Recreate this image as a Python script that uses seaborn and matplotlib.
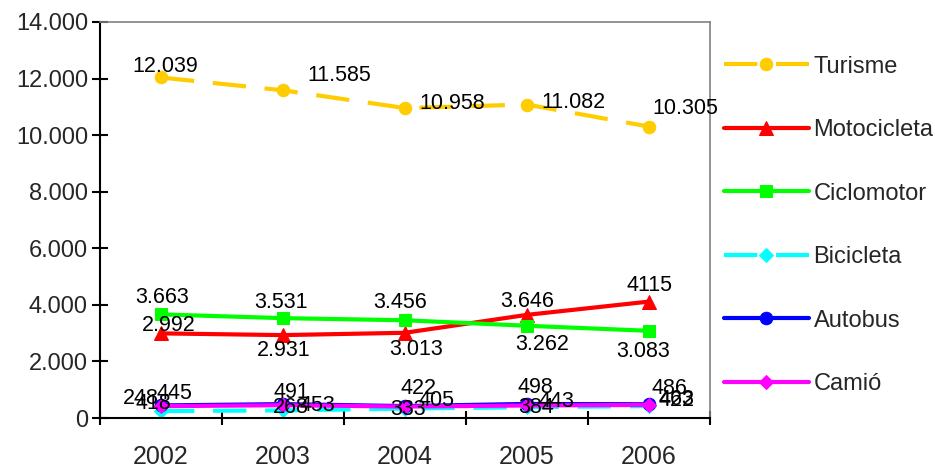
import matplotlib
matplotlib.use("Agg")
import matplotlib.pyplot as plt
import seaborn as sns
from matplotlib.ticker import FuncFormatter, FixedLocator

years = ["2002", "2003", "2004", "2005", "2006"]

turisme = [12039, 11585, 10958, 11082, 10305]
motocicleta = [2992, 2931, 3013, 3646, 4115]
ciclomotor = [3663, 3531, 3456, 3262, 3083]
bicicleta = [248, 268, 333, 384, 422]
autobus = [445, 491, 422, 498, 486]
camio = [418, 453, 405, 443, 463]

series = [
    ("Turisme", turisme, "#FFCC00", "o", (8, 4.5)),
    ("Motocicleta", motocicleta, "#FF0000", "^", None),
    ("Ciclomotor", ciclomotor, "#00FF00", "s", None),
    ("Bicicleta", bicicleta, "#00FFFF", "D", (8, 4.5)),
    ("Autobus", autobus, "#0000FF", "o", None),
    ("Camió", camio, "#FF00FF", "D", None),
]

# label offsets in pixels (dx, dy up), placed roughly like the excel labels
label_offsets = {
    "Turisme": [(4, 11), (56, 15), (47, 5), (47, 2), (37, 18)],
    "Motocicleta": [(8, 8), (1, -15), (11, -17), (0, 13), (1, 16)],
    "Ciclomotor": [(1, 17), (-2, 16), (-5, 18), (15, -19), (-6, -21)],
    "Bicicleta": [(-20, 13), (8, 3), (3, -1), (9, 0), (28, 6)],
    "Autobus": [(13, 12), (8, 12), (14, 18), (9, 16), (21, 16)],
    "Camió": [(-8, 3), (34, 0), (32, 6), (30, 4), (28, 5)],
}
no_separator = {("Motocicleta", 4)}

marker_sizes = {"o": 9, "^": 10, "s": 9, "D": 7.5}


def thousands(v, pos=None):
    return f"{v:,.0f}".replace(",", ".")


sns.set_style("white")
plt.rcParams["font.family"] = ["Liberation Sans", "DejaVu Sans"]

fig = plt.figure(figsize=(9.35, 4.7), dpi=100)
ax = fig.add_axes([0.107, 0.1106, 0.652, 0.8426])

x = list(range(len(years)))
for name, vals, color, marker, dashes in series:
    sns.lineplot(
        x=x,
        y=vals,
        ax=ax,
        color=color,
        marker=marker,
        markersize=marker_sizes[marker],
        markeredgecolor=color,
        markerfacecolor=color,
        linewidth=3,
        label=name,
    )
    line = ax.lines[-1]
    if dashes:
        line.set_dashes(dashes)
    for i, v in enumerate(vals):
        txt = str(v) if (name, i) in no_separator else thousands(v)
        dx, dy = label_offsets[name][i]
        ax.annotate(
            txt,
            xy=(i, v),
            xytext=(dx * 0.72, dy * 0.72),
            textcoords="offset points",
            ha="center",
            va="center",
            fontsize=15.5,
            color="black",
        )

ax.set_xlim(-0.5, 4.5)
ax.set_ylim(0, 14000)
ax.yaxis.set_major_locator(FixedLocator(range(0, 14001, 2000)))
ax.yaxis.set_major_formatter(FuncFormatter(thousands))
ax.set_xticks(x)
ax.set_xticklabels(years)
ax.set_xticks([i - 0.5 for i in range(len(years) + 1)], minor=True)

ax.tick_params(axis="y", which="major", direction="inout", length=11.5,
               width=1.5, labelsize=17, pad=3, left=True, color="black")
ax.tick_params(axis="x", which="major", length=0, labelsize=18, pad=19.5)
ax.tick_params(axis="x", which="minor", direction="inout", length=10,
               width=1.5, bottom=True, color="black")

for side in ["left", "bottom"]:
    ax.spines[side].set_color("black")
    ax.spines[side].set_linewidth(1.5)
for side in ["top", "right"]:
    ax.spines[side].set_color("#808080")
    ax.spines[side].set_linewidth(1.2)

handles, labels = ax.get_legend_handles_labels()
ax.get_legend().remove()
fig.legend(
    handles,
    labels,
    loc="upper left",
    bbox_to_anchor=(0.764, 0.902),
    frameon=False,
    fontsize=17,
    labelspacing=1.76,
    handlelength=3.6,
    handletextpad=0.2,
    borderaxespad=0,
)

fig.savefig("out.png", dpi=100)
